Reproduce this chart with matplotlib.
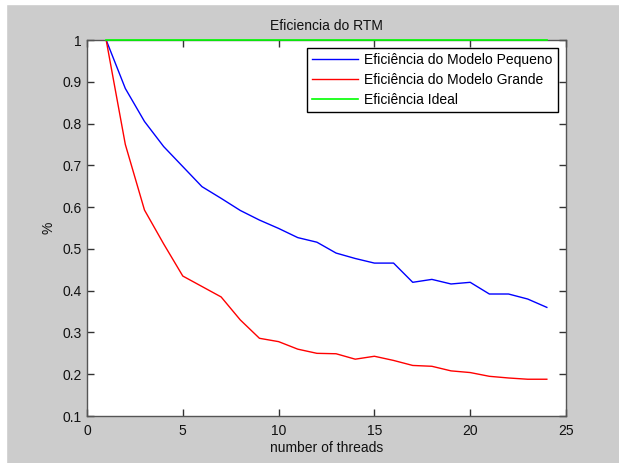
import matplotlib
matplotlib.use("Agg")
import matplotlib.pyplot as plt
from matplotlib.patches import Rectangle
from matplotlib.ticker import FuncFormatter

threads = list(range(1, 25))
small_model = [1.0, 0.884, 0.805, 0.745, 0.697, 0.649, 0.621, 0.592, 0.569, 0.549,
               0.527, 0.516, 0.49, 0.477, 0.466, 0.466, 0.42, 0.427, 0.416, 0.42,
               0.392, 0.392, 0.38, 0.36]
large_model = [1.0, 0.75, 0.593, 0.512, 0.435, 0.41, 0.385, 0.33, 0.286, 0.278,
               0.26, 0.25, 0.249, 0.236, 0.243, 0.233, 0.221, 0.219, 0.208, 0.204,
               0.195, 0.191, 0.188, 0.188]
ideal = [1.0] * 24

title = "Eficiencia do RTM"
xlabel = "number of threads"
ylabel = "%"
labels = ["Eficiência do Modelo Pequeno", "Eficiência do Modelo Grande", "Eficiência Ideal"]

plt.rcParams['font.family'] = ['Liberation Sans', 'DejaVu Sans']
plt.rcParams['font.size'] = 10

W, H = 619, 463
fig = plt.figure(figsize=(W / 100, H / 100), dpi=100, facecolor='#cccccc')
# white screenshot border (left and top only)
fig.patches.append(Rectangle((0, 0), 6 / W, 1, transform=fig.transFigure, color='white', zorder=-1))
fig.patches.append(Rectangle((0, 1 - 4 / H), 1, 4 / H, transform=fig.transFigure, color='white', zorder=-1))

ax = fig.add_axes([87 / W, 1 - 416 / H, (566 - 87) / W, (416 - 40) / H])
ax.plot(threads, small_model, color=(0, 0, 1), lw=1, label=labels[0])
ax.plot(threads, large_model, color=(1, 0, 0), lw=1, label=labels[1])
ax.plot(threads, ideal, color=(0, 1, 0), lw=1.2, label=labels[2], clip_on=False, zorder=5)

ax.set_xlim(0, 25)
ax.set_ylim(0.1, 1)
ax.set_xticks([0, 5, 10, 15, 20, 25])
ax.set_yticks([0.1, 0.2, 0.3, 0.4, 0.5, 0.6, 0.7, 0.8, 0.9, 1.0])
ax.yaxis.set_major_formatter(FuncFormatter(lambda v, p: f"{v:g}"))
ax.tick_params(direction='in', length=5, top=True, right=True, color='#333333',
               labelcolor='#111111', labelsize=10, width=1)
ax.tick_params(axis='x', pad=6)
ax.tick_params(axis='y', pad=4)
for s in ax.spines.values():
    s.set_color('#555555')
    s.set_linewidth(1)

ax.set_title(title, fontsize=10, pad=7, color='#111111')
ax.set_xlabel(xlabel, fontsize=10, labelpad=2, color='#111111')
ax.set_ylabel(ylabel, fontsize=10, labelpad=5, color='#111111')

leg = ax.legend(loc='upper right', fancybox=False, framealpha=1, edgecolor='black',
                borderaxespad=0.55, handlelength=3.3, handletextpad=0.45,
                labelspacing=0.42, borderpad=0.4, fontsize=10)
leg.get_frame().set_linewidth(1)

fig.savefig("out.png", dpi=100, facecolor=fig.get_facecolor())
